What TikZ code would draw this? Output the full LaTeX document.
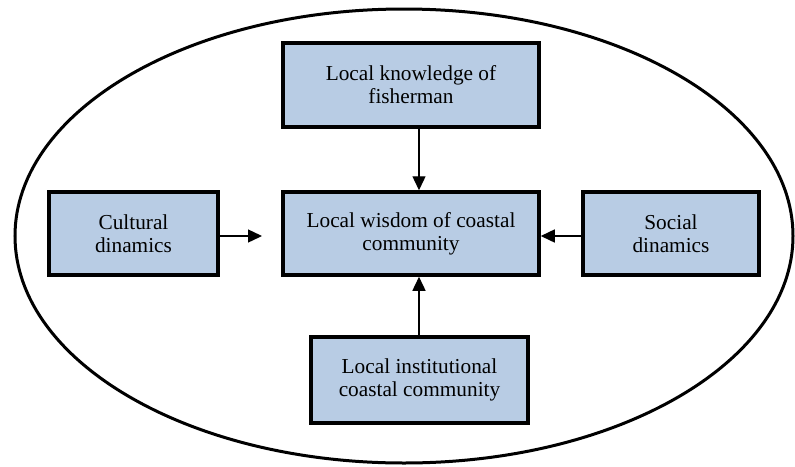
\documentclass[tikz,border=0pt]{standalone}
\usepackage{fontspec}
\setmainfont{Liberation Serif}
\usetikzlibrary{arrows.meta}
\definecolor{boxblue}{HTML}{B8CCE4}
\begin{document}
\begin{tikzpicture}[x=1pt,y=-1pt,
  box/.style={draw=black,line width=3.5pt,fill=boxblue,align=center,inner sep=0pt,
    font=\fontsize{21.3}{23}\selectfont},
  arr/.style={line width=1.4pt,-{Triangle[length=14pt,width=13pt]}}]
\useasboundingbox (0,0) rectangle (795,466);
\draw[line width=3pt] (404,236) ellipse [x radius=389, y radius=227];
\node[box,minimum width=256,minimum height=84] (top) at (411,85) {Local knowledge of\\fisherman};
\node[box,minimum width=256,minimum height=83] (mid) at (411,233.5) {Local wisdom of coastal\\community};
\node[box,minimum width=169,minimum height=83] (left) at (133.5,233.5) {Cultural\\dinamics};
\node[box,minimum width=176,minimum height=83] (right) at (671,233.5) {Social\\dinamics};
\node[box,minimum width=217,minimum height=86] (bot) at (419.5,380) {Local institutional\\coastal community};
\coordinate (ltip) at (262,236);
\draw[arr] ([xshift=8]top.south) -- ([xshift=8]mid.north);
\draw[arr] ([xshift=-0.5]bot.north) -- ([xshift=8]mid.south);
\draw[arr] (left.east |- ltip) -- (ltip);
\draw[arr] (right.west |- ltip) -- (mid.east |- ltip);
\end{tikzpicture}
\end{document}
